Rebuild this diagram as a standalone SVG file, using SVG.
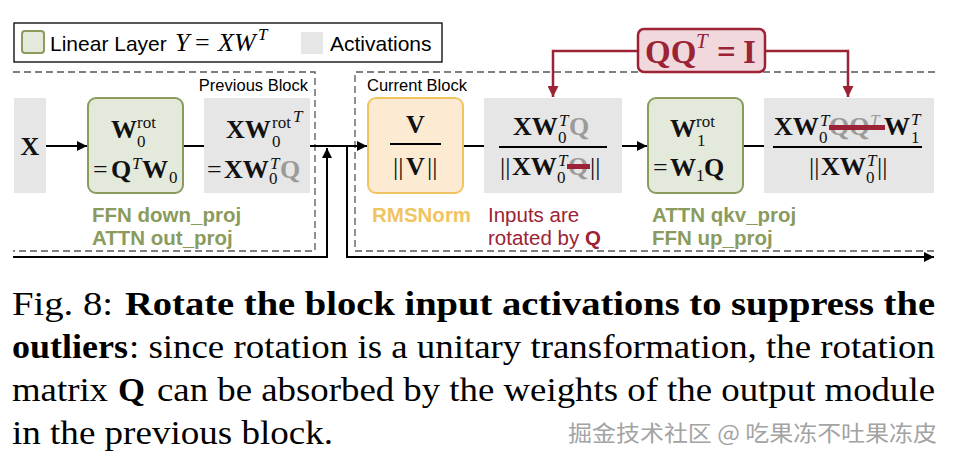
<svg xmlns="http://www.w3.org/2000/svg" width="954" height="460" viewBox="0 0 954 460">
<defs>
<marker id="ah" viewBox="0 0 10 10" refX="10" refY="5" markerWidth="11" markerHeight="10" markerUnits="userSpaceOnUse" orient="auto"><path d="M0,0 L10,5 L0,10 z" fill="#000"/></marker>
<marker id="ahr" viewBox="0 0 10 10" refX="10" refY="5" markerWidth="11" markerHeight="11" markerUnits="userSpaceOnUse" orient="auto"><path d="M0,0 L10,5 L0,10 z" fill="#9B2335"/></marker>
<style>
.sans{font-family:"Liberation Sans",Arial,sans-serif;}
.lbl{font-family:"Liberation Sans",Arial,sans-serif;font-size:20.5px;font-weight:bold;}
.grn{fill:#8A9B5D;}
.m{font-family:"Liberation Serif","Times New Roman",serif;font-size:26px;font-weight:bold;fill:#111;}
.s{font-size:17px;font-weight:normal;}
.it{font-size:17px;font-weight:normal;font-style:italic;}
.gq{fill:#9A9A9A;}
.dash{stroke:#555;stroke-width:1.3;stroke-dasharray:7 4;fill:none;}
.wire{stroke:#000;stroke-width:2;fill:none;}
.rw{stroke:#9B2335;stroke-width:2.5;fill:none;}
.act{fill:#E6E6E6;}
.lin{fill:#E4EADB;stroke:#8A9B5D;stroke-width:2;}
.cap{font-family:"Liberation Serif","Times New Roman",serif;font-size:34px;fill:#000;}
.b{font-weight:bold;}
</style>
</defs>

<!-- legend -->
<g id="legend">
<rect x="14" y="23" width="428" height="39" fill="#fff" stroke="#000" stroke-width="1.3"/>
<rect x="22" y="31" width="22" height="22" rx="3" class="lin"/>
<text class="sans" x="50" y="51" font-size="21">Linear Layer</text>
<text font-family="'Liberation Serif',serif" font-size="26" font-style="italic" y="51"><tspan x="175">Y</tspan><tspan x="195" font-style="normal">=</tspan><tspan x="218">XW</tspan><tspan x="258" y="40" font-size="17">T</tspan></text>
<rect x="301" y="32" width="22" height="22" class="act"/>
<text class="sans" x="330" y="51" font-size="21">Activations</text>
</g>

<!-- blocks -->
<g id="prev-block">
<path class="dash" d="M13,72 H315 V251 H13"/>
<text class="sans" x="308" y="91" font-size="16.5" text-anchor="end">Previous Block</text>
</g>
<g id="curr-block">
<path class="dash" d="M935,72 H355 V251 H935"/>
<text class="sans" x="367" y="91" font-size="16.5">Current Block</text>
</g>

<!-- connectors -->
<g id="connectors">
<line class="wire" x1="46" y1="146" x2="87" y2="146" marker-end="url(#ah)"/>
<line class="wire" x1="183" y1="146" x2="204" y2="146"/>
<line class="wire" x1="310" y1="146" x2="367" y2="146" marker-end="url(#ah)"/>
<path class="wire" d="M13,257 H327 V148" marker-end="url(#ah)"/>
<path class="wire" d="M347,146 V257 H934" marker-end="url(#ah)"/>
<line class="wire" x1="463" y1="146" x2="484" y2="146"/>
<line class="wire" x1="622" y1="146" x2="647" y2="146" marker-end="url(#ah)"/>
<line class="wire" x1="743" y1="146" x2="764" y2="146"/>
<path class="rw" d="M638,51 H553 V97" marker-end="url(#ahr)"/>
<path class="rw" d="M765,51 H848 V97" marker-end="url(#ahr)"/>
</g>

<!-- QQ^T = I -->
<g id="identity">
<rect x="638" y="29" width="127" height="43" rx="6" fill="#F0D8DC" stroke="#9B2335" stroke-width="2.5"/>
<text font-family="'Liberation Serif',serif" font-weight="bold" font-size="33" fill="#9B2335" y="63"><tspan x="645">QQ</tspan><tspan x="696" y="48" font-size="21" font-weight="normal" font-style="italic">T</tspan><tspan x="717" y="63">=</tspan><tspan x="743" y="63">I</tspan></text>
</g>

<!-- X -->
<g id="x-input">
<rect x="14" y="98" width="32" height="95" class="act"/>
<text class="m" x="30" y="155" text-anchor="middle">X</text>
</g>

<!-- W0 rot -->
<g id="w0rot">
<rect x="88" y="98" width="95" height="95" rx="8" class="lin"/>
<text class="m"><tspan x="111" y="138">W</tspan><tspan class="s" x="137" y="128">rot</tspan><tspan class="s" x="137" y="147">0</tspan></text>
<text class="m" y="178"><tspan x="93" font-weight="normal">=</tspan><tspan x="111">Q</tspan><tspan class="it" x="132" y="169">T</tspan><tspan x="142" y="178">W</tspan><tspan class="s" x="169" y="183">0</tspan></text>
<text class="lbl grn" x="92" y="222">FFN down_proj</text>
<text class="lbl grn" x="92" y="245">ATTN out_proj</text>
</g>

<!-- XW0rot^T -->
<g id="act1">
<rect x="204" y="98" width="106" height="95" class="act"/>
<text class="m"><tspan x="226" y="138">XW</tspan><tspan class="s" x="272" y="128">rot</tspan><tspan class="it" x="293" y="122">T</tspan><tspan class="s" x="272" y="147">0</tspan></text>
<text class="m" y="178"><tspan x="207" font-weight="normal">=</tspan><tspan x="224">XW</tspan><tspan class="it" x="270" y="169">T</tspan><tspan class="s" x="269" y="184">0</tspan><tspan class="gq" x="280" y="178">Q</tspan></text>
</g>

<!-- RMSNorm -->
<g id="rmsnorm">
<rect x="368" y="98" width="95" height="95" rx="8" fill="#FCEBD2" stroke="#F1C462" stroke-width="2"/>
<text class="m" x="415.5" y="133" text-anchor="middle">V</text>
<line x1="390" y1="144" x2="441" y2="144" stroke="#000" stroke-width="2"/>
<text class="m" y="175"><tspan x="393" font-weight="normal">||</tspan><tspan x="406">V</tspan><tspan x="427" font-weight="normal">||</tspan></text>
<text class="lbl" x="372" y="222" fill="#F1C462">RMSNorm</text>
</g>

<!-- normalized rotated inputs -->
<g id="act2">
<rect x="484" y="98" width="138" height="95" class="act"/>
<text class="m"><tspan x="513" y="135">XW</tspan><tspan class="it" x="559" y="126">T</tspan><tspan class="s" x="558" y="143">0</tspan><tspan class="gq" x="569" y="135">Q</tspan></text>
<line x1="499" y1="147" x2="607" y2="147" stroke="#000" stroke-width="2"/>
<text class="m"><tspan x="500" y="175" font-weight="normal">||</tspan><tspan x="512" y="175">XW</tspan><tspan class="it" x="558" y="166">T</tspan><tspan class="s" x="557" y="183">0</tspan><tspan class="gq" x="568" y="175">Q</tspan><tspan x="590" y="175" font-weight="normal">||</tspan></text>
<rect x="567" y="164" width="23" height="5" fill="#9B2335"/>
<text class="sans" x="488" y="222" font-size="20.5" fill="#9B2335">Inputs are</text>
<text class="sans" x="488" y="245" font-size="20.5" fill="#9B2335">rotated by <tspan font-weight="bold">Q</tspan></text>
</g>

<!-- W1 rot -->
<g id="w1rot">
<rect x="648" y="98" width="95" height="95" rx="8" class="lin"/>
<text class="m"><tspan x="670" y="137">W</tspan><tspan class="s" x="696" y="127">rot</tspan><tspan class="s" x="697" y="146">1</tspan></text>
<text class="m" y="176"><tspan x="653" font-weight="normal">=</tspan><tspan x="670">W</tspan><tspan class="s" x="696" y="181">1</tspan><tspan x="704" y="176">Q</tspan></text>
<text class="lbl grn" x="652" y="222">ATTN qkv_proj</text>
<text class="lbl grn" x="652" y="245">FFN up_proj</text>
</g>

<!-- output -->
<g id="act3">
<rect x="764" y="98" width="170" height="95" class="act"/>
<text class="m"><tspan x="774" y="135">XW</tspan><tspan class="it" x="820" y="126">T</tspan><tspan class="s" x="819" y="143">0</tspan><tspan class="gq" x="829" y="135">QQ</tspan><tspan class="it gq" x="870" y="126">T</tspan><tspan x="884" y="135">W</tspan><tspan class="it" x="911" y="125">T</tspan><tspan class="s" x="911" y="143">1</tspan></text>
<rect x="829" y="125" width="56" height="5" fill="#9B2335"/>
<line x1="773" y1="147" x2="922" y2="147" stroke="#000" stroke-width="2"/>
<text class="m"><tspan x="809" y="175" font-weight="normal">||</tspan><tspan x="821" y="175">XW</tspan><tspan class="it" x="867" y="166">T</tspan><tspan class="s" x="866" y="183">0</tspan><tspan x="877" y="175" font-weight="normal">||</tspan></text>
</g>

<!-- caption -->
<g id="caption">
<text class="cap" x="12" y="315" textLength="101" lengthAdjust="spacingAndGlyphs">Fig. 8:</text>
<text class="cap b" x="125" y="315" textLength="810" lengthAdjust="spacingAndGlyphs">Rotate the block input activations to suppress the</text>
<text class="cap b" x="12" y="358" textLength="116" lengthAdjust="spacingAndGlyphs">outliers</text>
<text class="cap" x="129" y="358" textLength="806" lengthAdjust="spacingAndGlyphs">: since rotation is a unitary transformation, the rotation</text>
<text class="cap" x="12" y="401" textLength="96" lengthAdjust="spacingAndGlyphs">matrix</text>
<text class="cap b" x="118" y="401" textLength="27" lengthAdjust="spacingAndGlyphs">Q</text>
<text class="cap" x="157" y="401" textLength="778" lengthAdjust="spacingAndGlyphs">can be absorbed by the weights of the output module</text>
<text class="cap" x="12" y="444" textLength="321" lengthAdjust="spacingAndGlyphs">in the previous block.</text>
<text x="568" y="441" font-family="'Noto Sans CJK SC',sans-serif" font-size="22" fill="#A3A3A3" textLength="369" lengthAdjust="spacingAndGlyphs">掘金技术社区 @ 吃果冻不吐果冻皮</text>
</g>
</svg>
